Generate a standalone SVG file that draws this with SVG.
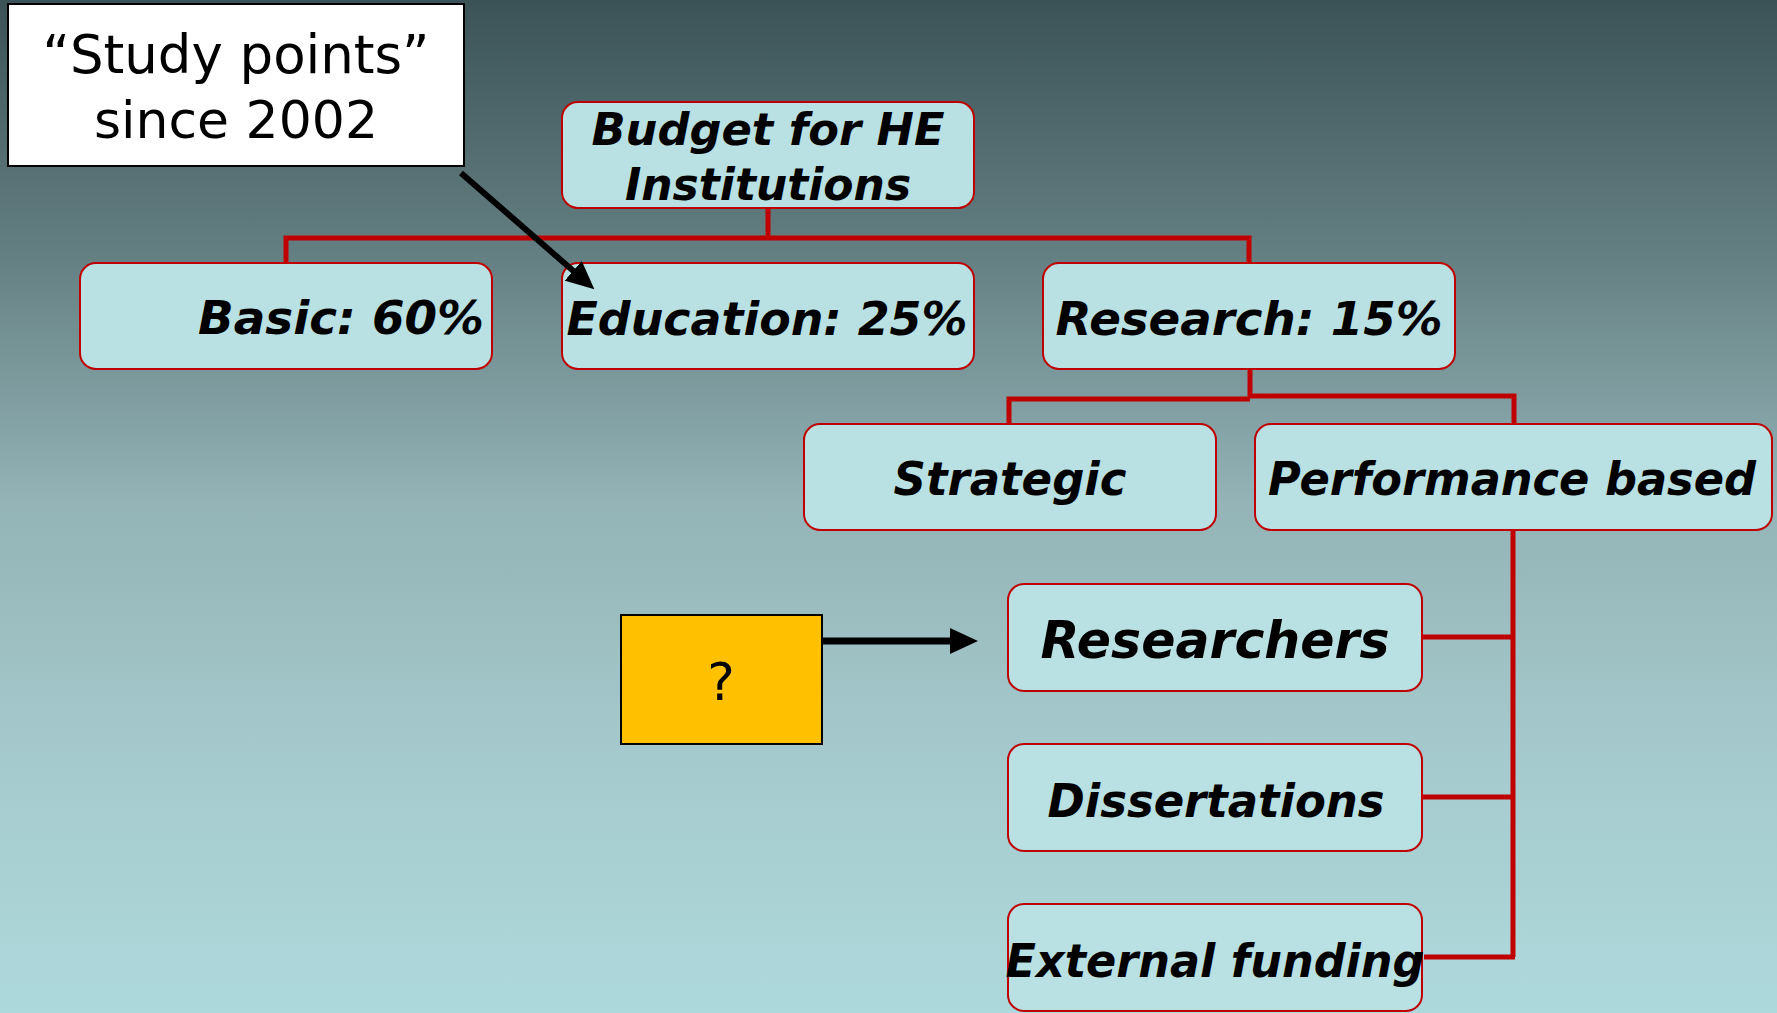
<svg xmlns="http://www.w3.org/2000/svg" width="1777" height="1013" viewBox="0 0 1777 1013">
<defs>
<linearGradient id="bg" x1="0" y1="0" x2="0" y2="1">
<stop offset="0" stop-color="#3b5356"/>
<stop offset="0.25" stop-color="#647f82"/>
<stop offset="0.5" stop-color="#94b4b7"/>
<stop offset="0.75" stop-color="#a5cacd"/>
<stop offset="1" stop-color="#aed9dc"/>
</linearGradient>
<marker id="ah" markerUnits="userSpaceOnUse" markerWidth="28" markerHeight="26" refX="1" refY="13" orient="auto" viewBox="0 0 28 26">
<path d="M0,0 L28,13 L0,26 Z" fill="#000"/>
</marker>
</defs>
<style>
.box{fill:#b9e0e3;stroke:#c00000;stroke-width:2}
.t{font-family:"DejaVu Sans",Verdana,sans-serif;font-weight:bold;font-style:italic;fill:#000;text-anchor:middle}
.r{font-family:"DejaVu Sans",Verdana,sans-serif;fill:#000;text-anchor:middle}
.c{fill:none;stroke:#c00000;stroke-width:5}
</style>
<rect x="0" y="0" width="1777" height="1013" fill="url(#bg)"/>
<g id="study">
<rect x="8" y="4" width="456" height="162" fill="#fff" stroke="#000" stroke-width="2"/>
<text class="r" x="236" y="73" font-size="53" textLength="387" lengthAdjust="spacingAndGlyphs">“Study points”</text>
<text class="r" x="236" y="138" font-size="52">since 2002</text>
</g>
<g id="budget">
<rect class="box" x="562" y="102" width="412" height="106" rx="16"/>
<text class="t" x="768" y="145" font-size="44" textLength="353" lengthAdjust="spacingAndGlyphs">Budget for HE</text>
<text class="t" x="768" y="200" font-size="44">Institutions</text>
</g>
<g id="basic">
<rect class="box" x="80" y="263" width="412" height="106" rx="16"/>
<text class="t" x="341" y="334" font-size="46" textLength="286" lengthAdjust="spacingAndGlyphs">Basic: 60%</text>
</g>
<g id="education">
<rect class="box" x="562" y="263" width="412" height="106" rx="16"/>
<text class="t" x="767" y="335" font-size="46" textLength="401" lengthAdjust="spacingAndGlyphs">Education: 25%</text>
</g>
<g id="research">
<rect class="box" x="1043" y="263" width="412" height="106" rx="16"/>
<text class="t" x="1249" y="335" font-size="46" textLength="387" lengthAdjust="spacingAndGlyphs">Research: 15%</text>
</g>
<g id="strategic">
<rect class="box" x="804" y="424" width="412" height="106" rx="16"/>
<text class="t" x="1010" y="495" font-size="46" textLength="233" lengthAdjust="spacingAndGlyphs">Strategic</text>
</g>
<g id="performance">
<rect class="box" x="1255" y="424" width="517" height="106" rx="16"/>
<text class="t" x="1512" y="495" font-size="46" textLength="488" lengthAdjust="spacingAndGlyphs">Performance based</text>
</g>
<g id="question">
<rect x="621" y="615" width="201" height="129" fill="#ffc000" stroke="#000" stroke-width="2"/>
<text class="r" x="721" y="700" font-size="52">?</text>
</g>
<g id="researchers">
<rect class="box" x="1008" y="584" width="414" height="107" rx="16"/>
<text class="t" x="1215" y="658" font-size="51" textLength="349" lengthAdjust="spacingAndGlyphs">Researchers</text>
</g>
<g id="dissertations">
<rect class="box" x="1008" y="744" width="414" height="107" rx="16"/>
<text class="t" x="1216" y="817" font-size="47" textLength="337" lengthAdjust="spacingAndGlyphs">Dissertations</text>
</g>
<g id="external">
<rect class="box" x="1008" y="904" width="414" height="107" rx="16"/>
<text class="t" x="1215" y="977" font-size="47" textLength="419" lengthAdjust="spacingAndGlyphs">External funding</text>
</g>
<g id="connectors">
<path class="c" d="M286,262 V238 H1249 V262 M768,209 V238"/>
<path class="c" d="M1250,370 V397 M1009,423 V399 H1250 M1514,423 V396 H1248"/>
<path class="c" d="M1513,531 V957 M1423,637 H1515 M1423,797 H1515 M1424,957 H1515"/>
<line x1="461" y1="173" x2="574" y2="271.5" stroke="#000" stroke-width="6" marker-end="url(#ah)"/>
<line x1="823" y1="641" x2="951" y2="641" stroke="#000" stroke-width="7" marker-end="url(#ah)"/>
</g>
</svg>
